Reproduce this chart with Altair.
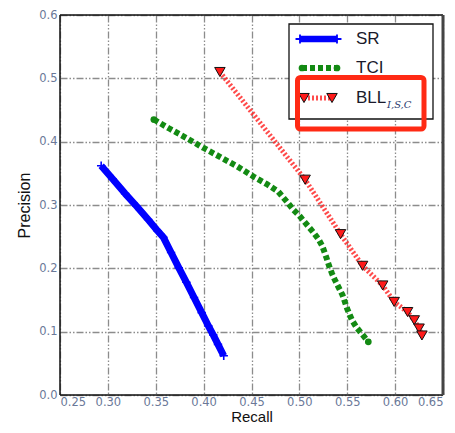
import altair as alt
import pandas as pd

# ---- data ----
sr_recall = [0.293, 0.305, 0.318, 0.330, 0.342, 0.352, 0.358, 0.366, 0.374, 0.382, 0.390, 0.398, 0.405, 0.410, 0.415, 0.421]
sr_prec   = [0.362, 0.341, 0.318, 0.298, 0.277, 0.259, 0.249, 0.225, 0.201, 0.178, 0.154, 0.130, 0.109, 0.095, 0.080, 0.062]

tci_recall = [0.348, 0.365, 0.383, 0.400, 0.417, 0.435, 0.452, 0.466, 0.478, 0.487, 0.494, 0.500, 0.505, 0.510, 0.515, 0.520, 0.524, 0.528, 0.531, 0.534, 0.537, 0.541, 0.545, 0.550, 0.555, 0.560, 0.565, 0.572]
tci_prec   = [0.435, 0.420, 0.405, 0.390, 0.376, 0.361, 0.345, 0.333, 0.321, 0.305, 0.292, 0.283, 0.274, 0.265, 0.256, 0.246, 0.235, 0.218, 0.204, 0.192, 0.182, 0.170, 0.158, 0.136, 0.118, 0.106, 0.097, 0.084]

bll_recall = [0.417, 0.506, 0.543, 0.566, 0.587, 0.599, 0.613, 0.620, 0.625, 0.628]
bll_prec   = [0.510, 0.340, 0.254, 0.204, 0.173, 0.147, 0.131, 0.118, 0.105, 0.094]

series_names = ["SR", "TCI", "BLL"]
x_ticks = [0.25, 0.30, 0.35, 0.40, 0.45, 0.50, 0.55, 0.60, 0.65]
y_ticks = [0.0, 0.1, 0.2, 0.3, 0.4, 0.5, 0.6]

sr = pd.DataFrame({"recall": sr_recall, "precision": sr_prec, "i": range(len(sr_recall))})
tci = pd.DataFrame({"recall": tci_recall, "precision": tci_prec, "i": range(len(tci_recall))})
bll = pd.DataFrame({"recall": bll_recall, "precision": bll_prec, "i": range(len(bll_recall))})
one = pd.DataFrame({"a": [0]})

W = 383
H = 380

grid_dash = [7, 2, 1.5, 2, 1.5, 2]
label_color = "#6a7898"

xs = alt.Scale(domain=[0.25, 0.65], nice=False, zero=False)
ys = alt.Scale(domain=[0.0, 0.6], nice=False, zero=False)

x_enc = alt.X("recall:Q", scale=xs, title="Recall",
              axis=alt.Axis(values=x_ticks, format=".2f", grid=True, gridDash=grid_dash,
                            gridColor="#8c8c8c", gridWidth=1.3, gridOpacity=1,
                            domain=False, ticks=False, labelPadding=1,
                            labelFont="DejaVu Sans", labelFontSize=11.5, labelColor=label_color,
                            titleFont="Liberation Sans", titleFontSize=15, titleFontWeight="normal",
                            titleColor="#111", titleBaseline="alphabetic", titleY=26.8))
y_enc = alt.Y("precision:Q", scale=ys, title="Precision",
              axis=alt.Axis(values=y_ticks, format=".1f", grid=True, gridDash=grid_dash,
                            gridColor="#8c8c8c", gridWidth=1.3, gridOpacity=1,
                            domain=False, ticks=False, labelPadding=3,
                            labelFont="DejaVu Sans", labelFontSize=11.5, labelColor=label_color,
                            titleFont="Liberation Sans", titleFontSize=16, titleFontWeight="normal",
                            titleColor="#111", titlePadding=6))

sr_line = alt.Chart(sr).mark_line(color="#0000ff", strokeWidth=7, strokeCap="butt",
                                  strokeJoin="round").encode(x=x_enc, y=y_enc, order="i:Q")
sr_pts = alt.Chart(sr).mark_point(shape="M-1,0L1,0M0,-1L0,1", size=70, color="#0000ff",
                                  strokeWidth=1.6, filled=False, opacity=1).encode(
    x=alt.X("recall:Q", scale=xs), y=alt.Y("precision:Q", scale=ys))

tci_line = alt.Chart(tci).mark_line(color="#138a13", strokeWidth=6, strokeDash=[5, 3],
                                    strokeCap="butt").encode(
    x=alt.X("recall:Q", scale=xs), y=alt.Y("precision:Q", scale=ys), order="i:Q")
tci_end = alt.Chart(tci.iloc[[0, len(tci) - 1]]).mark_circle(color="#138a13", size=45, opacity=1).encode(
    x=alt.X("recall:Q", scale=xs), y=alt.Y("precision:Q", scale=ys))

bll_line = alt.Chart(bll).mark_line(color="#ff2a2a", strokeWidth=5, strokeDash=[2, 2],
                                    strokeCap="butt", opacity=0.85).encode(
    x=alt.X("recall:Q", scale=xs), y=alt.Y("precision:Q", scale=ys), order="i:Q")
bll_pts = alt.Chart(bll).mark_point(shape="triangle-down", size=110, fill="#ff1a1a",
                                    stroke="#111", strokeWidth=1, filled=True, opacity=1).encode(
    x=alt.X("recall:Q", scale=xs), y=alt.Y("precision:Q", scale=ys))

# frame
frame_lt = alt.Chart(one).mark_rule(color="#111", strokeWidth=1.5).encode(
    x=alt.value(0), y=alt.value(0), y2=alt.value(H))
frame_top = alt.Chart(one).mark_rule(color="#111", strokeWidth=1.5).encode(
    x=alt.value(0), x2=alt.value(W), y=alt.value(0))
frame_bot = alt.Chart(one).mark_rule(color="#111", strokeWidth=1.5).encode(
    x=alt.value(0), x2=alt.value(W), y=alt.value(H))
frame_rt = alt.Chart(one).mark_rule(color="#444", strokeWidth=3).encode(
    x=alt.value(W), y=alt.value(0), y2=alt.value(H))

# ---- custom legend ----
leg_box = alt.Chart(one).mark_rect(fill="white", stroke="#111", strokeWidth=1.3).encode(
    x=alt.value(229), x2=alt.value(373), y=alt.value(9), y2=alt.value(104))
leg_sr = alt.Chart(one).mark_rule(color="#0000ff", strokeWidth=6.5).encode(
    x=alt.value(240), x2=alt.value(277), y=alt.value(24))
leg_sr_pts = alt.Chart(pd.DataFrame({"px": [240, 277]})).mark_point(
    shape="M-1,0L1,0M0,-1L0,1", size=80, color="#0000ff", strokeWidth=1.8, opacity=1).encode(
    x=alt.X("px:Q", scale=None), y=alt.value(24))
leg_tci = alt.Chart(one).mark_rule(color="#138a13", strokeWidth=6, strokeDash=[5, 3]).encode(
    x=alt.value(242), x2=alt.value(277), y=alt.value(53))
leg_tci_pts = alt.Chart(pd.DataFrame({"px": [242, 277]})).mark_circle(
    color="#138a13", size=45, opacity=1).encode(x=alt.X("px:Q", scale=None), y=alt.value(53))
leg_bll = alt.Chart(one).mark_rule(color="#ff2a2a", strokeWidth=5, strokeDash=[2, 2], opacity=0.85).encode(
    x=alt.value(244), x2=alt.value(272), y=alt.value(83))
leg_bll_pts = alt.Chart(pd.DataFrame({"px": [244, 272]})).mark_point(
    shape="triangle-down", size=110, fill="#ff1a1a", stroke="#111", strokeWidth=1,
    filled=True, opacity=1).encode(x=alt.X("px:Q", scale=None), y=alt.value(83))

leg_text = alt.Chart(pd.DataFrame({"t": series_names, "py": [24, 53, 83]})).mark_text(
    align="left", baseline="middle", font="Liberation Sans", fontSize=17, color="#1a1a2a").encode(
    x=alt.value(296), y=alt.Y("py:Q", scale=None), text="t:N")
leg_sub = alt.Chart(one).mark_text(
    align="left", baseline="middle", font="DejaVu Serif", fontStyle="italic", fontSize=10,
    color="#2a3a70", text="I,S,C").encode(x=alt.value(327), y=alt.value(90))

# red annotation box
red_box = alt.Chart(one).mark_rect(fillOpacity=0, stroke="#ff2a14", strokeWidth=5, cornerRadius=3).encode(
    x=alt.value(237.5), x2=alt.value(364), y=alt.value(62.5), y2=alt.value(114))

chart = alt.layer(
    sr_line, sr_pts, tci_line, tci_end, bll_line, bll_pts,
    frame_lt, frame_top, frame_bot, frame_rt,
    leg_box, leg_sr, leg_sr_pts, leg_tci, leg_tci_pts, leg_bll, leg_bll_pts,
    leg_text, leg_sub, red_box
).properties(
    width=W, height=H,
    autosize=alt.AutoSizeParams(type="none"),
    padding={"left": 52, "top": 7, "right": 4, "bottom": 30},
).configure_view(strokeWidth=0).configure(background="white")

chart.save("out.html", embed_options={"renderer": "svg", "actions": False})
